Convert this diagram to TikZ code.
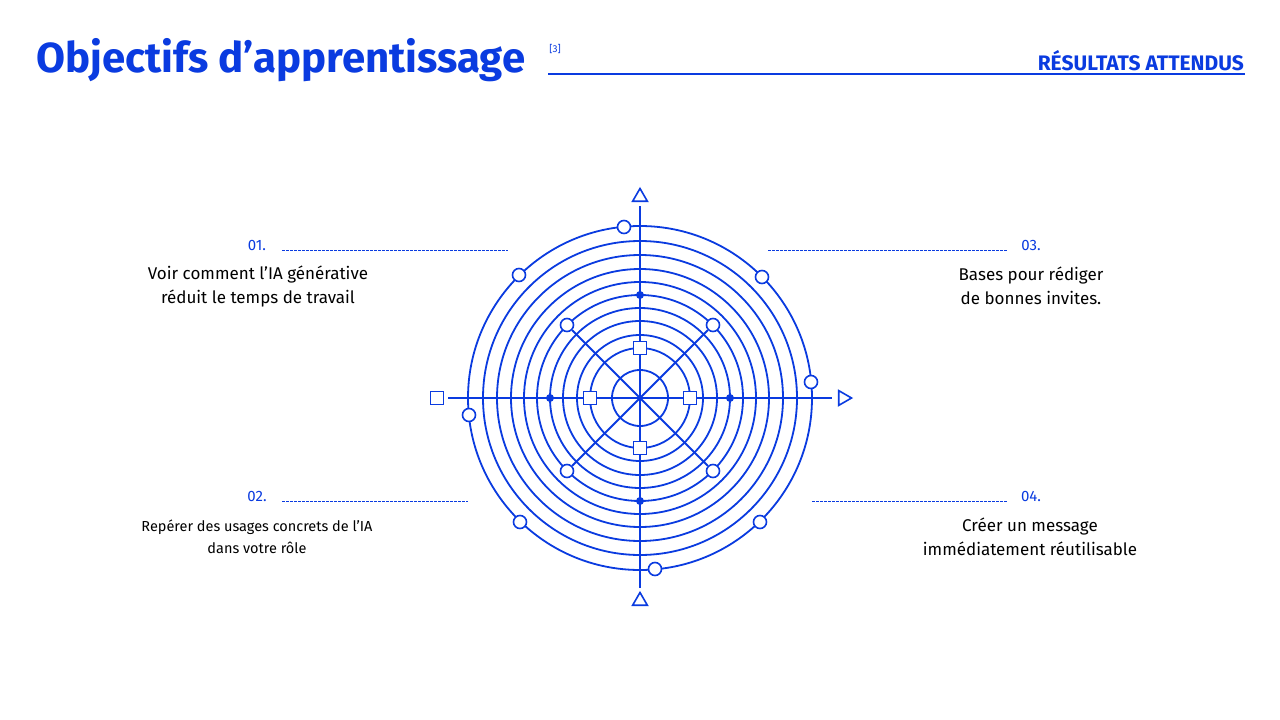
\documentclass[tikz,border=0pt]{standalone}
\usepackage{fontspec}
\setmainfont{Fira Sans}
\usetikzlibrary{shapes.geometric,calc}
\definecolor{bl}{HTML}{0A3BE0}
\begin{document}
\begin{tikzpicture}[x=1pt,y=-1pt,
  ln/.style={draw=bl,line width=1.8pt},
  oc/.style={circle,draw=bl,fill=white,line width=1.6pt,minimum size=13pt,inner sep=0pt},
  sq/.style={rectangle,draw=bl,fill=white,line width=1.6pt,minimum size=13pt,inner sep=0pt},
  dt/.style={circle,fill=bl,minimum size=8pt,inner sep=0pt},
  tri/.style={regular polygon,regular polygon sides=3,draw=bl,fill=white,line width=1.6pt,minimum size=17pt,inner sep=0pt},
  num/.style={text=bl,font=\fontsize{15}{17}\selectfont,inner sep=0pt},
  body/.style={font=\fontsize{17}{24}\selectfont,align=center,inner sep=0pt},
  dl/.style={draw=bl,dashed,dash pattern=on 2.5pt off 1.5pt,line width=0.8pt}]
\fill[white] (0,0) rectangle (1280,720);
\node[anchor=west,text=bl,font=\fontsize{42}{46}\selectfont\bfseries,inner sep=0pt] (title) at (36,60) {Objectifs d’apprentissage};
\node[text=bl,font=\fontsize{10}{11}\selectfont,inner sep=0pt] (ref) at (555,49) {[3]};
\coordinate (hl) at (548,74); \coordinate (hr) at (1245,74);
\draw[draw=bl,line width=1.2pt] (hl) -- (hr);
\node[anchor=base east,text=bl,font=\fontsize{21}{24}\selectfont\bfseries,inner sep=0pt] (res) at (1244,70) {RÉSULTATS ATTENDUS};
\coordinate (c) at (640,398);
\foreach \r in {28,50,63,77,90,103,116,129,143,157,172} \draw[ln] (c) circle[radius=\r];
\coordinate (vt) at (640,206); \coordinate (vb) at (640,588);
\coordinate (hL) at (448,398); \coordinate (hR) at (832,398);
\draw[ln] (vt) -- (vb); \draw[ln] (hL) -- (hR);
\node[oc] (d1) at ($(c)+(-73,-73)$) {};
\node[oc] (d2) at ($(c)+(73,-73)$) {};
\node[oc] (d3) at ($(c)+(-73,73)$) {};
\node[oc] (d4) at ($(c)+(73,73)$) {};
\draw[ln] (d1) -- (d4); \draw[ln] (d2) -- (d3);
\node[sq] (s1) at (640,348) {}; \node[sq] (s2) at (640,448) {};
\node[sq] (s3) at (590,398) {}; \node[sq] (s4) at (690,398) {};
\node[dt] (t1) at (640,295) {}; \node[dt] (t2) at (640,501) {};
\node[dt] (t3) at (550,398) {}; \node[dt] (t4) at (730,398) {};
\node[oc] (o1) at (624,227) {}; \node[oc] (o2) at (519,275) {};
\node[oc] (o3) at (762,277) {}; \node[oc] (o4) at (811,382) {};
\node[oc] (o5) at (469,415) {}; \node[oc] (o6) at (520,522) {};
\node[oc] (o7) at (760,522) {}; \node[oc] (o8) at (655,569) {};
\node[tri] (tu) at (640,197) {};
\node[tri] (tb) at (640,601) {};
\node[tri,shape border rotate=-90] (tr) at (843,398) {};
\node[sq] (sl) at (437,398) {};
% labels
\node[num] (n1) at (257,245) {01.}; \coordinate (a1) at (282,250); \coordinate (b1) at (508,250); \draw[dl] (a1) -- (b1);
\node[num] (n2) at (257,496) {02.}; \coordinate (a2) at (282,501); \coordinate (b2) at (468,501); \draw[dl] (a2) -- (b2);
\node[num] (n3) at (1031,245) {03.}; \coordinate (a3) at (768,250); \coordinate (b3) at (1008,250); \draw[dl] (a3) -- (b3);
\node[num] (n4) at (1031,496) {04.}; \coordinate (a4) at (812,501); \coordinate (b4) at (1008,501); \draw[dl] (a4) -- (b4);
\node[body] (l1) at (258,286) {Voir comment l’IA générative\\ réduit le temps de travail};
\node[body,font=\fontsize{14.5}{22}\selectfont] (l2) at (257,537) {Repérer des usages concrets de l’IA\\dans votre rôle};
\node[body] (l3) at (1031,286) {Bases pour rédiger\\ de bonnes invites.};
\node[body] (l4) at (1030,537) {Créer un message\\immédiatement réutilisable};
\end{tikzpicture}
\end{document}
